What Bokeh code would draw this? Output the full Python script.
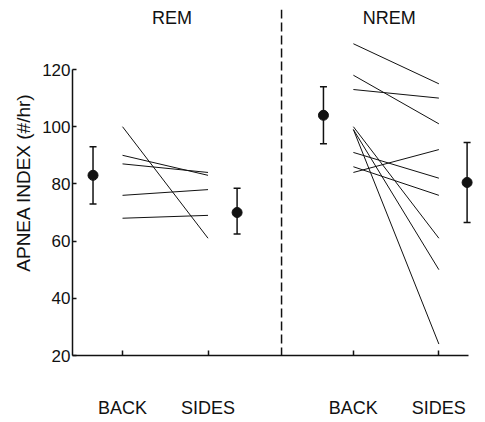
from bokeh.plotting import figure
from bokeh.models import Range1d, FixedTicker, Span, Whisker, ColumnDataSource, TeeHead
from bokeh.core.properties import value
from bokeh.embed import file_html
from bokeh.resources import INLINE

# ---- data ----
stage_labels = ["REM", "NREM"]
position_labels = ["BACK", "SIDES", "BACK", "SIDES"]
y_ticks = [20, 40, 60, 80, 100, 120]

rem_back = [100, 90, 87, 76, 68]
rem_sides = [61, 83, 84, 78, 69]
nrem_back = [129, 118, 113, 91, 86, 84, 100, 99, 99]
nrem_sides = [115, 101, 110, 82, 76, 92, 61, 50, 24]

mean_vals = [83, 70, 104, 80.5]
mean_err_lo = [73, 62.5, 94, 66.5]
mean_err_hi = [93, 78.5, 114, 94.5]

# ---- layout constants ----
TICK_POS = [1.0, 2.0, 3.7, 4.7]
MEAN_OFFSET = [-0.345, 0.34, -0.35, 0.33]
SEP_X = 2.86
HEADER_X = [1.58, 4.12]
HEADER_Y = 138.1
FONT = "Liberation Sans"
INK = "#111111"

p = figure(width=476, height=420, output_backend="svg", toolbar_location=None,
           x_range=Range1d(0.415, 5.140), y_range=Range1d(20, 140.98),
           min_border_left=72, min_border_right=0, min_border_top=9, min_border_bottom=65)
p.outline_line_color = None
p.grid.visible = False
p.background_fill_color = "white"

# axes
xa = p.xaxis[0]
xa.ticker = FixedTicker(ticks=TICK_POS)
xa.major_label_overrides = {t: l for t, l in zip(TICK_POS, position_labels)}
xa.bounds = (0.415, 5.047)
xa.major_tick_in = 5
xa.major_tick_out = 0
xa.minor_tick_line_color = None
xa.axis_line_width = 1.5
xa.axis_line_color = INK
xa.major_tick_line_color = INK
xa.major_tick_line_width = 1.5
xa.major_label_standoff = 42
xa.major_label_text_font = FONT
xa.major_label_text_font_size = "18px"
xa.major_label_text_color = INK

ya = p.yaxis[0]
ya.ticker = FixedTicker(ticks=y_ticks)
ya.bounds = (20, 120)
ya.major_tick_in = 4
ya.major_tick_out = 0
ya.minor_tick_line_color = None
ya.axis_line_width = 1.5
ya.axis_line_color = INK
ya.major_tick_line_color = INK
ya.major_tick_line_width = 1.5
ya.major_label_standoff = 2
ya.major_label_text_font = FONT
ya.major_label_text_font_size = "17px"
ya.major_label_text_color = INK
ya.axis_label = "APNEA INDEX (#/hr)"
ya.axis_label_text_font = FONT
ya.axis_label_text_font_size = "19px"
ya.axis_label_text_font_style = "normal"
ya.axis_label_text_color = INK
ya.axis_label_standoff = 5

# separator
p.add_layout(Span(location=SEP_X, dimension="height", line_color=INK,
                  line_width=1.5, line_dash="9 4"))

# individual subject lines
p.segment(x0=[TICK_POS[0]] * len(rem_back), y0=rem_back,
          x1=[TICK_POS[1]] * len(rem_sides), y1=rem_sides,
          line_color=INK, line_width=1)
p.segment(x0=[TICK_POS[2]] * len(nrem_back), y0=nrem_back,
          x1=[TICK_POS[3]] * len(nrem_sides), y1=nrem_sides,
          line_color=INK, line_width=1)

# means with error bars
mx = [t + o for t, o in zip(TICK_POS, MEAN_OFFSET)]
src = ColumnDataSource(dict(x=mx, y=mean_vals, lo=mean_err_lo, hi=mean_err_hi))
w = Whisker(source=src, base="x", lower="lo", upper="hi", dimension="height",
            line_color=INK, line_width=1.5,
            upper_head=TeeHead(size=7, line_color=INK, line_width=1.5),
            lower_head=TeeHead(size=7, line_color=INK, line_width=1.5))
p.add_layout(w)
p.scatter("x", "y", source=src, size=10, color=INK)

# stage headers
p.text(x=HEADER_X, y=[HEADER_Y] * len(HEADER_X), text=stage_labels,
       text_font=value(FONT), text_font_size="18px", text_color=INK,
       text_align="center", text_baseline="middle")

open("out.html", "w").write(file_html(p, INLINE))
